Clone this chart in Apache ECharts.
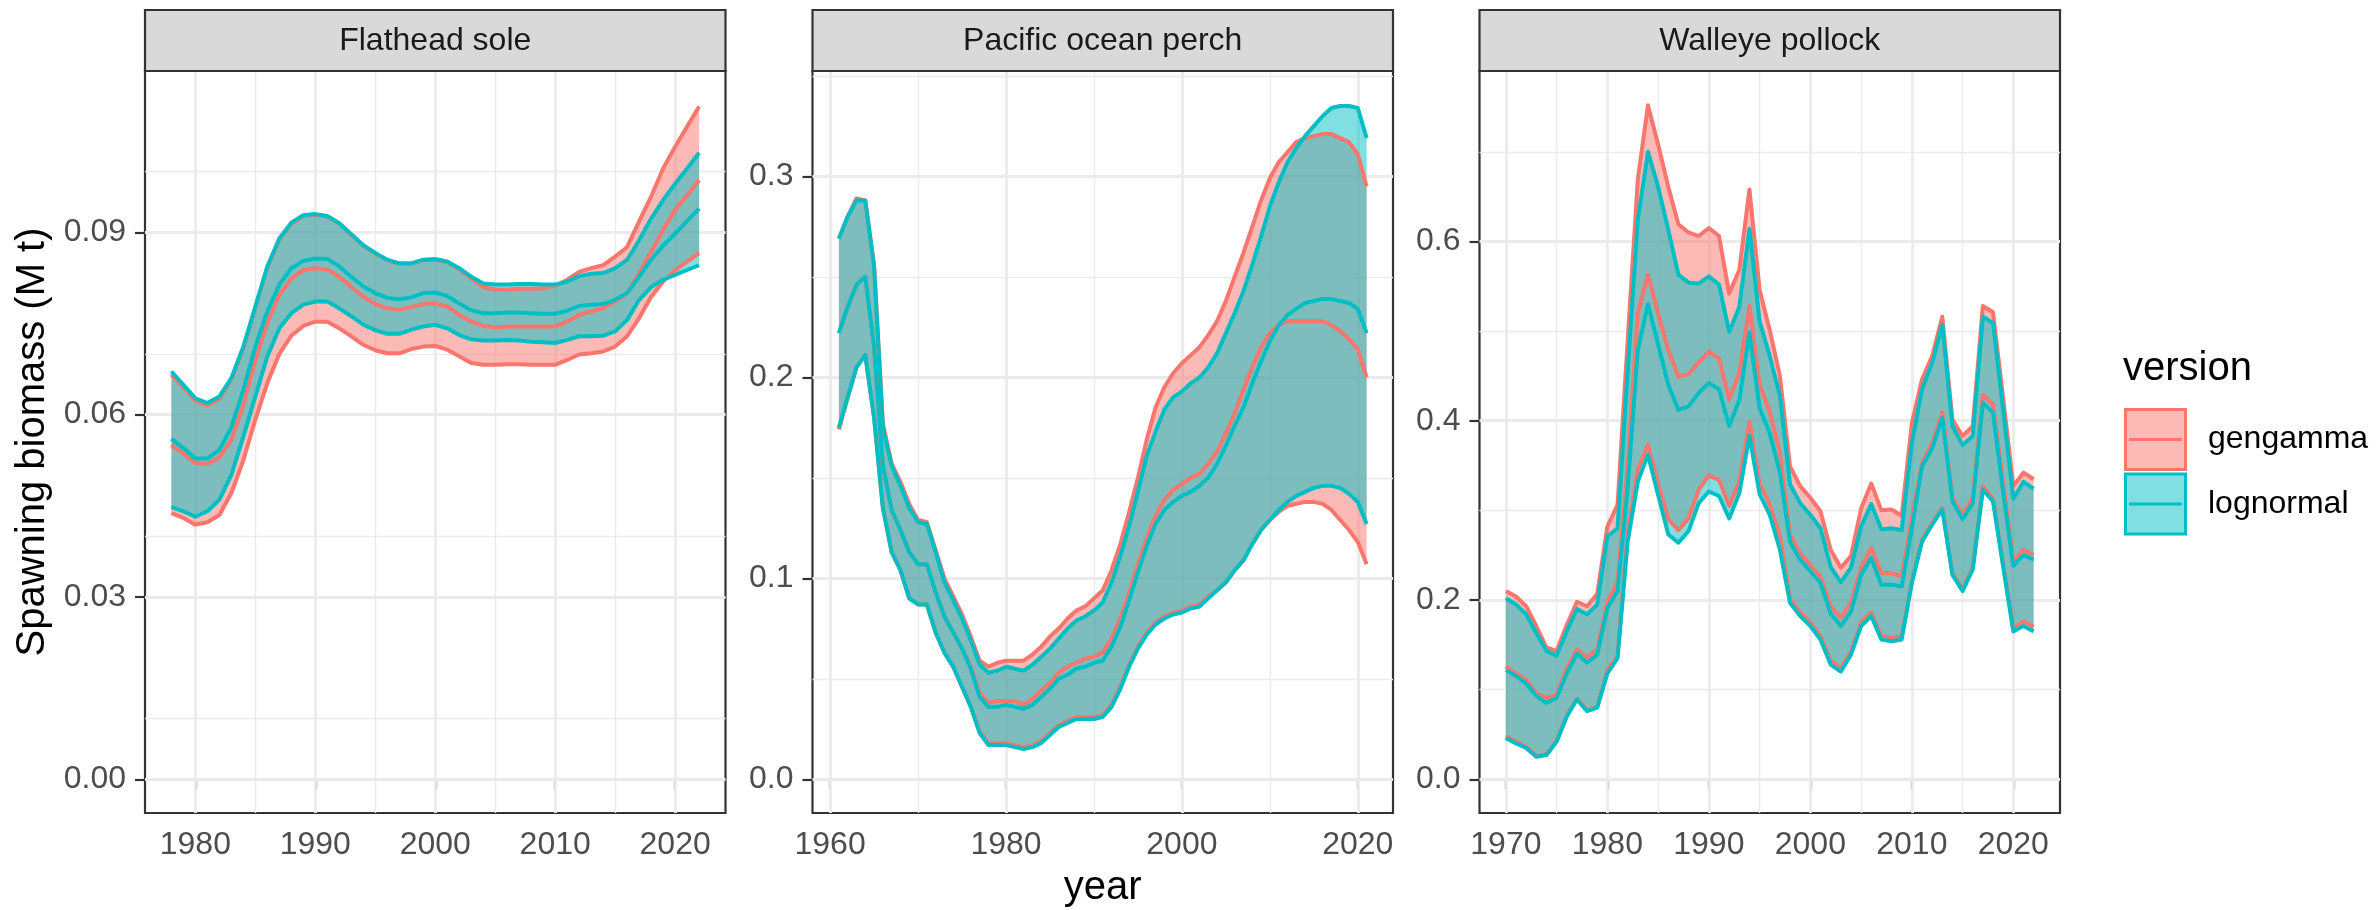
<!DOCTYPE html>
<html>
<head>
<meta charset="utf-8">
<title>Spawning biomass by stock</title>
<script src="https://cdn.jsdelivr.net/npm/echarts@6/dist/echarts.min.js"></script>
<style>
  html, body { margin: 0; padding: 0; background: #ffffff; }
  #chart { width: 2376px; height: 910px; }
</style>
</head>
<body>
<div id="chart"></div>
<script>
// ---- data ----
var versions = ['gengamma', 'lognormal'];
var versionColors = ['#F8766D', '#00BFC4'];
var versionFills = ['rgba(248,118,109,0.5)', 'rgba(0,191,196,0.5)'];

// Flathead sole
var fsYears = [1978, 1979, 1980, 1981, 1982, 1983, 1984, 1985, 1986, 1987,
  1988, 1989, 1990, 1991, 1992, 1993, 1994, 1995, 1996, 1997,
  1998, 1999, 2000, 2001, 2002, 2003, 2004, 2005, 2006, 2007,
  2008, 2009, 2010, 2011, 2012, 2013, 2014, 2015, 2016, 2017,
  2018, 2019, 2020, 2021, 2022];
var fsGgLo = [0.0438, 0.0430, 0.0419, 0.0423, 0.0435, 0.0471, 0.0525, 0.0592, 0.0652, 0.0700,
  0.0730, 0.0746, 0.0753, 0.0753, 0.0742, 0.0729, 0.0715, 0.0706, 0.0701, 0.0701,
  0.0708, 0.0712, 0.0713, 0.0707, 0.0696, 0.0685, 0.0682, 0.0682, 0.0683, 0.0683,
  0.0682, 0.0682, 0.0682, 0.0690, 0.0699, 0.0701, 0.0704, 0.0712, 0.0729, 0.0759,
  0.0794, 0.0819, 0.0838, 0.0852, 0.0866];
var fsGgMid = [0.0550, 0.0536, 0.0520, 0.0519, 0.0530, 0.0558, 0.0616, 0.0690, 0.0751, 0.0797,
  0.0824, 0.0838, 0.0841, 0.0839, 0.0827, 0.0810, 0.0794, 0.0782, 0.0775, 0.0773,
  0.0777, 0.0782, 0.0783, 0.0778, 0.0764, 0.0753, 0.0746, 0.0744, 0.0745, 0.0745,
  0.0745, 0.0745, 0.0745, 0.0753, 0.0764, 0.0770, 0.0775, 0.0786, 0.0800, 0.0833,
  0.0868, 0.0904, 0.0937, 0.0961, 0.0986];
var fsGgHi = [0.0666, 0.0645, 0.0623, 0.0615, 0.0626, 0.0658, 0.0710, 0.0776, 0.0842, 0.0888,
  0.0914, 0.0927, 0.0929, 0.0926, 0.0914, 0.0896, 0.0878, 0.0865, 0.0854, 0.0848,
  0.0848, 0.0854, 0.0855, 0.0851, 0.0839, 0.0824, 0.0810, 0.0806, 0.0806, 0.0807,
  0.0807, 0.0808, 0.0812, 0.0822, 0.0835, 0.0841, 0.0846, 0.0860, 0.0876, 0.0918,
  0.0959, 0.1005, 0.1041, 0.1074, 0.1107];
var fsLnLo = [0.0448, 0.0441, 0.0432, 0.0441, 0.0460, 0.0501, 0.0564, 0.0630, 0.0696, 0.0742,
  0.0767, 0.0781, 0.0786, 0.0786, 0.0775, 0.0762, 0.0748, 0.0739, 0.0733, 0.0733,
  0.0740, 0.0745, 0.0748, 0.0742, 0.0731, 0.0724, 0.0722, 0.0722, 0.0723, 0.0722,
  0.0720, 0.0719, 0.0718, 0.0723, 0.0729, 0.0729, 0.0730, 0.0737, 0.0756, 0.0789,
  0.0810, 0.0822, 0.0830, 0.0838, 0.0846];
var fsLnMid = [0.0560, 0.0545, 0.0528, 0.0528, 0.0542, 0.0579, 0.0641, 0.0712, 0.0770, 0.0814,
  0.0841, 0.0853, 0.0857, 0.0856, 0.0844, 0.0827, 0.0811, 0.0800, 0.0792, 0.0790,
  0.0793, 0.0800, 0.0801, 0.0795, 0.0783, 0.0772, 0.0767, 0.0767, 0.0768, 0.0768,
  0.0767, 0.0766, 0.0766, 0.0771, 0.0779, 0.0781, 0.0782, 0.0789, 0.0800, 0.0827,
  0.0855, 0.0878, 0.0898, 0.0919, 0.0939];
var fsLnHi = [0.0671, 0.0649, 0.0627, 0.0619, 0.0630, 0.0660, 0.0712, 0.0778, 0.0844, 0.0890,
  0.0916, 0.0928, 0.0930, 0.0927, 0.0915, 0.0897, 0.0879, 0.0866, 0.0855, 0.0849,
  0.0849, 0.0855, 0.0856, 0.0852, 0.0841, 0.0827, 0.0816, 0.0814, 0.0814, 0.0815,
  0.0815, 0.0814, 0.0814, 0.0819, 0.0828, 0.0832, 0.0833, 0.0841, 0.0855, 0.0887,
  0.0923, 0.0953, 0.0980, 0.1005, 0.1031];

// Pacific ocean perch
var popYears = [1961, 1962, 1963, 1964, 1965, 1966, 1967, 1968, 1969, 1970,
  1971, 1972, 1973, 1974, 1975, 1976, 1977, 1978, 1979, 1980,
  1981, 1982, 1983, 1984, 1985, 1986, 1987, 1988, 1989, 1990,
  1991, 1992, 1993, 1994, 1995, 1996, 1997, 1998, 1999, 2000,
  2001, 2002, 2003, 2004, 2005, 2006, 2007, 2008, 2009, 2010,
  2011, 2012, 2013, 2014, 2015, 2016, 2017, 2018, 2019, 2020,
  2021];
var popGgLo = [0.174, 0.190, 0.205, 0.211, 0.180, 0.135, 0.113, 0.104, 0.090, 0.087,
  0.087, 0.073, 0.063, 0.056, 0.046, 0.036, 0.024, 0.018, 0.018, 0.018,
  0.017, 0.016, 0.017, 0.019, 0.023, 0.027, 0.029, 0.031, 0.031, 0.031,
  0.032, 0.037, 0.046, 0.057, 0.066, 0.073, 0.078, 0.081, 0.083, 0.084,
  0.086, 0.087, 0.091, 0.094, 0.098, 0.104, 0.109, 0.117, 0.124, 0.129,
  0.133, 0.136, 0.137, 0.138, 0.138, 0.137, 0.134, 0.129, 0.124, 0.118,
  0.107];
var popGgMid = [0.222, 0.235, 0.246, 0.250, 0.215, 0.156, 0.134, 0.124, 0.113, 0.107,
  0.107, 0.093, 0.081, 0.073, 0.065, 0.056, 0.043, 0.038, 0.039, 0.039,
  0.039, 0.037, 0.040, 0.044, 0.048, 0.053, 0.056, 0.058, 0.060, 0.061,
  0.063, 0.070, 0.080, 0.093, 0.107, 0.120, 0.131, 0.139, 0.144, 0.147,
  0.150, 0.152, 0.157, 0.163, 0.172, 0.182, 0.194, 0.205, 0.215, 0.222,
  0.226, 0.228, 0.228, 0.228, 0.228, 0.228, 0.226, 0.223, 0.219, 0.214,
  0.200];
var popGgHi = [0.269, 0.280, 0.289, 0.288, 0.256, 0.177, 0.157, 0.148, 0.137, 0.129,
  0.128, 0.114, 0.100, 0.091, 0.082, 0.071, 0.059, 0.056, 0.058, 0.059,
  0.059, 0.059, 0.062, 0.066, 0.071, 0.075, 0.080, 0.084, 0.086, 0.090,
  0.094, 0.104, 0.117, 0.133, 0.150, 0.169, 0.185, 0.195, 0.202, 0.207,
  0.211, 0.215, 0.221, 0.228, 0.238, 0.250, 0.262, 0.275, 0.288, 0.299,
  0.307, 0.312, 0.317, 0.319, 0.320, 0.321, 0.321, 0.319, 0.317, 0.311,
  0.295];
var popLnLo = [0.175, 0.190, 0.205, 0.211, 0.180, 0.135, 0.113, 0.104, 0.090, 0.087,
  0.087, 0.073, 0.063, 0.056, 0.046, 0.036, 0.023, 0.017, 0.017, 0.017,
  0.016, 0.015, 0.016, 0.018, 0.022, 0.026, 0.028, 0.030, 0.030, 0.030,
  0.031, 0.036, 0.045, 0.056, 0.065, 0.072, 0.077, 0.080, 0.082, 0.083,
  0.085, 0.086, 0.090, 0.094, 0.098, 0.104, 0.109, 0.117, 0.124, 0.129,
  0.134, 0.138, 0.141, 0.143, 0.145, 0.146, 0.146, 0.145, 0.142, 0.138,
  0.127];
var popLnMid = [0.222, 0.235, 0.246, 0.250, 0.215, 0.156, 0.134, 0.124, 0.113, 0.107,
  0.107, 0.093, 0.081, 0.073, 0.065, 0.055, 0.041, 0.036, 0.036, 0.037,
  0.036, 0.035, 0.037, 0.041, 0.045, 0.050, 0.052, 0.055, 0.056, 0.058,
  0.059, 0.066, 0.076, 0.089, 0.103, 0.116, 0.127, 0.134, 0.138, 0.141,
  0.143, 0.146, 0.150, 0.157, 0.166, 0.176, 0.185, 0.197, 0.208, 0.218,
  0.226, 0.231, 0.234, 0.237, 0.238, 0.239, 0.239, 0.238, 0.237, 0.234,
  0.222];
var popLnHi = [0.269, 0.280, 0.288, 0.288, 0.255, 0.175, 0.156, 0.146, 0.135, 0.128,
  0.127, 0.113, 0.098, 0.089, 0.080, 0.069, 0.057, 0.053, 0.054, 0.056,
  0.055, 0.054, 0.057, 0.061, 0.065, 0.070, 0.075, 0.079, 0.081, 0.084,
  0.088, 0.098, 0.111, 0.126, 0.143, 0.161, 0.173, 0.184, 0.190, 0.193,
  0.197, 0.200, 0.205, 0.212, 0.222, 0.232, 0.243, 0.256, 0.270, 0.285,
  0.297, 0.307, 0.314, 0.320, 0.325, 0.330, 0.334, 0.335, 0.335, 0.334,
  0.319];

// Walleye pollock
var wpYears = [1970, 1971, 1972, 1973, 1974, 1975, 1976, 1977, 1978, 1979,
  1980, 1981, 1982, 1983, 1984, 1985, 1986, 1987, 1988, 1989,
  1990, 1991, 1992, 1993, 1994, 1995, 1996, 1997, 1998, 1999,
  2000, 2001, 2002, 2003, 2004, 2005, 2006, 2007, 2008, 2009,
  2010, 2011, 2012, 2013, 2014, 2015, 2016, 2017, 2018, 2019,
  2020, 2021, 2022];
var wpGgLo = [0.048, 0.042, 0.036, 0.026, 0.028, 0.043, 0.071, 0.090, 0.077, 0.081,
  0.122, 0.137, 0.275, 0.345, 0.373, 0.330, 0.290, 0.278, 0.291, 0.323,
  0.339, 0.334, 0.305, 0.332, 0.399, 0.330, 0.306, 0.271, 0.201, 0.186,
  0.175, 0.160, 0.132, 0.124, 0.142, 0.175, 0.186, 0.160, 0.158, 0.159,
  0.221, 0.267, 0.286, 0.303, 0.230, 0.212, 0.236, 0.327, 0.313, 0.240,
  0.168, 0.176, 0.170];
var wpGgMid = [0.126, 0.118, 0.111, 0.096, 0.091, 0.094, 0.124, 0.145, 0.136, 0.145,
  0.197, 0.221, 0.350, 0.520, 0.563, 0.519, 0.479, 0.449, 0.452, 0.465,
  0.477, 0.469, 0.424, 0.453, 0.528, 0.440, 0.410, 0.364, 0.273, 0.252,
  0.239, 0.226, 0.193, 0.180, 0.197, 0.236, 0.258, 0.230, 0.230, 0.226,
  0.290, 0.353, 0.375, 0.409, 0.314, 0.295, 0.314, 0.429, 0.418, 0.330,
  0.243, 0.256, 0.250];
var wpGgHi = [0.210, 0.204, 0.193, 0.171, 0.147, 0.143, 0.172, 0.198, 0.193, 0.207,
  0.282, 0.306, 0.490, 0.669, 0.752, 0.708, 0.661, 0.619, 0.610, 0.606,
  0.615, 0.606, 0.542, 0.568, 0.658, 0.546, 0.501, 0.450, 0.349, 0.327,
  0.314, 0.299, 0.256, 0.236, 0.249, 0.302, 0.330, 0.300, 0.301, 0.294,
  0.397, 0.446, 0.472, 0.516, 0.401, 0.383, 0.394, 0.528, 0.521, 0.425,
  0.327, 0.342, 0.335];
var wpLnLo = [0.046, 0.040, 0.035, 0.025, 0.027, 0.042, 0.070, 0.089, 0.076, 0.080,
  0.118, 0.135, 0.265, 0.332, 0.362, 0.317, 0.273, 0.264, 0.277, 0.308,
  0.321, 0.316, 0.291, 0.319, 0.383, 0.318, 0.295, 0.256, 0.197, 0.182,
  0.171, 0.156, 0.128, 0.120, 0.139, 0.171, 0.182, 0.156, 0.154, 0.156,
  0.219, 0.265, 0.284, 0.301, 0.228, 0.210, 0.234, 0.323, 0.310, 0.237,
  0.165, 0.171, 0.165];
var wpLnMid = [0.122, 0.115, 0.107, 0.093, 0.085, 0.091, 0.118, 0.140, 0.130, 0.139,
  0.191, 0.210, 0.325, 0.479, 0.530, 0.485, 0.440, 0.412, 0.416, 0.431,
  0.442, 0.435, 0.394, 0.423, 0.498, 0.414, 0.386, 0.342, 0.265, 0.245,
  0.232, 0.219, 0.185, 0.171, 0.187, 0.228, 0.247, 0.217, 0.217, 0.215,
  0.280, 0.349, 0.369, 0.403, 0.310, 0.290, 0.308, 0.420, 0.409, 0.320,
  0.238, 0.250, 0.245];
var wpLnHi = [0.202, 0.195, 0.184, 0.163, 0.143, 0.138, 0.165, 0.190, 0.184, 0.195,
  0.271, 0.280, 0.455, 0.624, 0.700, 0.661, 0.613, 0.563, 0.554, 0.553,
  0.561, 0.552, 0.499, 0.527, 0.614, 0.511, 0.472, 0.428, 0.329, 0.308,
  0.295, 0.280, 0.237, 0.220, 0.236, 0.282, 0.307, 0.279, 0.280, 0.278,
  0.375, 0.435, 0.464, 0.507, 0.394, 0.373, 0.383, 0.516, 0.509, 0.412,
  0.313, 0.332, 0.324];

// axis limits and breaks (major = labelled, minor = grid only)
var fsXLim = [1975.8, 2024.2], fsYLim = [-0.00555, 0.11655];
var fsXMajor = [1980, 1990, 2000, 2010, 2020], fsXMinor = [1985, 1995, 2005, 2015];
var fsYMajor = [0, 0.03, 0.06, 0.09], fsYMinor = [0.015, 0.045, 0.075, 0.105];

var popXLim = [1958, 2024], popYLim = [-0.01678, 0.3524];
var popXMajor = [1960, 1980, 2000, 2020], popXMinor = [1970, 1990, 2010];
var popYMajor = [0, 0.1, 0.2, 0.3], popYMinor = [0.05, 0.15, 0.25, 0.35];

var wpXLim = [1967.4, 2024.6], wpYLim = [-0.03762, 0.7901];
var wpXMajor = [1970, 1980, 1990, 2000, 2010, 2020], wpXMinor = [1975, 1985, 1995, 2005, 2015];
var wpYMajor = [0, 0.2, 0.4, 0.6], wpYMinor = [0.1, 0.3, 0.5, 0.7];

// ---- layout ----
var FONT = '"Liberation Sans", Arial, Helvetica, sans-serif';
var PANEL_TOP = 71, PANEL_H = 742, PANEL_W = 580.5;
var STRIP_TOP = 10;
var panelLeft = [145, 812.5, 1479.5];

var panels = [
  { title: 'Flathead sole', years: fsYears,
    gg: [fsGgLo, fsGgMid, fsGgHi], ln: [fsLnLo, fsLnMid, fsLnHi],
    xLim: fsXLim, yLim: fsYLim, xMajor: fsXMajor, xMinor: fsXMinor,
    yMajor: fsYMajor, yMinor: fsYMinor, digits: 2 },
  { title: 'Pacific ocean perch', years: popYears,
    gg: [popGgLo, popGgMid, popGgHi], ln: [popLnLo, popLnMid, popLnHi],
    xLim: popXLim, yLim: popYLim, xMajor: popXMajor, xMinor: popXMinor,
    yMajor: popYMajor, yMinor: popYMinor, digits: 1 },
  { title: 'Walleye pollock', years: wpYears,
    gg: [wpGgLo, wpGgMid, wpGgHi], ln: [wpLnLo, wpLnMid, wpLnHi],
    xLim: wpXLim, yLim: wpYLim, xMajor: wpXMajor, xMinor: wpXMinor,
    yMajor: wpYMajor, yMinor: wpYMinor, digits: 1 }
];

function pairs(xs, ys) {
  return xs.map(function (x, k) { return [x, ys[k]]; });
}

function ribbonRender(xs, lo, hi, fill) {
  return function (params, api) {
    if (params.dataIndex !== 0) return null;
    var pts = [];
    for (var k = 0; k < xs.length; k++) pts.push(api.coord([xs[k], hi[k]]));
    for (var j = xs.length - 1; j >= 0; j--) pts.push(api.coord([xs[j], lo[j]]));
    return { type: 'polygon', shape: { points: pts }, style: { fill: fill } };
  };
}

function lineSeries(i, xs, ys, color) {
  return {
    type: 'line', xAxisIndex: i, yAxisIndex: i, data: pairs(xs, ys),
    showSymbol: false, symbol: 'none', silent: true,
    lineStyle: { color: color, width: 4, join: 'round', cap: 'butt' },
    itemStyle: { color: color }
  };
}

var grids = [], xAxes = [], yAxes = [], series = [], graphics = [];

panels.forEach(function (p, i) {
  grids.push({
    left: panelLeft[i], top: PANEL_TOP, width: PANEL_W, height: PANEL_H,
    show: true, backgroundColor: '#ffffff', borderColor: '#333333', borderWidth: 2.2
  });
  xAxes.push({
    gridIndex: i, type: 'value', min: p.xLim[0], max: p.xLim[1],
    axisLine: { show: false },
    axisTick: { show: true, length: 10, customValues: p.xMajor, lineStyle: { color: '#333333', width: 2.2 } },
    axisLabel: { customValues: p.xMajor, margin: 16, color: '#4D4D4D', fontSize: 32, fontFamily: FONT,
      formatter: function (v) { return String(v); } },
    splitLine: { show: false }
  });
  yAxes.push({
    gridIndex: i, type: 'value', min: p.yLim[0], max: p.yLim[1],
    axisLine: { show: false },
    axisTick: { show: true, length: 10, customValues: p.yMajor, lineStyle: { color: '#333333', width: 2.2 } },
    axisLabel: { customValues: p.yMajor, margin: 19, color: '#4D4D4D', fontSize: 32, fontFamily: FONT,
      formatter: function (v) { return v.toFixed(p.digits); } },
    splitLine: { show: false }
  });

  // grid lines, placed through the axes' own scales
  var gl = [];
  p.xMinor.forEach(function (v) { gl.push({ xAxis: v, lineStyle: { width: 1.4 } }); });
  p.yMinor.forEach(function (v) { gl.push({ yAxis: v, lineStyle: { width: 1.4 } }); });
  p.xMajor.forEach(function (v) { gl.push({ xAxis: v, lineStyle: { width: 2.8 } }); });
  p.yMajor.forEach(function (v) { gl.push({ yAxis: v, lineStyle: { width: 2.8 } }); });
  series.push({
    type: 'line', xAxisIndex: i, yAxisIndex: i, data: [[p.xLim[0], p.yLim[0]]],
    showSymbol: false, symbol: 'none', silent: true, lineStyle: { opacity: 0 }, z: 1,
    markLine: {
      silent: true, symbol: ['none', 'none'], label: { show: false }, animation: false, z: 1,
      lineStyle: { color: '#EBEBEB', type: 'solid' }, emphasis: { disabled: true },
      data: gl
    }
  });

  // ribbons with their outlines (gengamma first, lognormal on top)
  [p.gg, p.ln].forEach(function (band, v) {
    series.push({
      type: 'custom', xAxisIndex: i, yAxisIndex: i, silent: true, clip: false,
      data: p.years.map(function (x, k) { return [x, band[0][k], band[2][k]]; }),
      encode: { x: 0, y: [1, 2] },
      renderItem: ribbonRender(p.years, band[0], band[2], versionFills[v])
    });
    series.push(lineSeries(i, p.years, band[2], versionColors[v]));
    series.push(lineSeries(i, p.years, band[0], versionColors[v]));
  });
  // medians drawn last
  series.push(lineSeries(i, p.years, p.gg[1], versionColors[0]));
  series.push(lineSeries(i, p.years, p.ln[1], versionColors[1]));

  // facet strip
  graphics.push({
    type: 'rect', z: 10,
    shape: { x: panelLeft[i], y: STRIP_TOP, width: PANEL_W, height: PANEL_TOP - STRIP_TOP },
    style: { fill: '#D9D9D9', stroke: '#333333', lineWidth: 2.2 }
  });
  graphics.push({
    type: 'text', z: 11, x: panelLeft[i] + PANEL_W / 2, y: (STRIP_TOP + PANEL_TOP) / 2 + 1,
    style: { text: p.title, fill: '#1A1A1A', fontSize: 32, fontFamily: FONT, align: 'center', verticalAlign: 'middle' }
  });
});

// axis titles
graphics.push({
  type: 'text', x: 33, y: PANEL_TOP + PANEL_H / 2, rotation: Math.PI / 2,
  style: { text: 'Spawning biomass (M t)', fill: '#000000', fontSize: 40, fontFamily: FONT, align: 'center', verticalAlign: 'middle' }
});
graphics.push({
  type: 'text', x: panelLeft[1] + PANEL_W / 2, y: 888,
  style: { text: 'year', fill: '#000000', fontSize: 40, fontFamily: FONT, align: 'center', verticalAlign: 'middle' }
});

// legend
var LEG_X = 2124, LEG_TOP = 408, KEY = 63;
graphics.push({
  type: 'text', x: LEG_X - 1, y: 369,
  style: { text: 'version', fill: '#000000', fontSize: 40, fontFamily: FONT, align: 'left', verticalAlign: 'middle' }
});
versions.forEach(function (name, v) {
  var y0 = LEG_TOP + v * (KEY + 1.5);
  graphics.push({
    type: 'rect', shape: { x: LEG_X + 1.5, y: y0 + 1.5, width: KEY - 3, height: KEY - 3 },
    style: { fill: versionFills[v], stroke: versionColors[v], lineWidth: 3 }
  });
  graphics.push({
    type: 'line', shape: { x1: LEG_X + 5, y1: y0 + KEY / 2, x2: LEG_X + KEY - 5, y2: y0 + KEY / 2 },
    style: { stroke: versionColors[v], lineWidth: 3 }
  });
  graphics.push({
    type: 'text', x: LEG_X + 84, y: y0 + KEY / 2,
    style: { text: name, fill: '#000000', fontSize: 32, fontFamily: FONT, align: 'left', verticalAlign: 'middle' }
  });
});

var chart = echarts.init(document.getElementById('chart'), null, { renderer: 'canvas' });
chart.setOption({
  animation: false,
  backgroundColor: '#ffffff',
  grid: grids,
  xAxis: xAxes,
  yAxis: yAxes,
  series: series,
  graphic: { elements: graphics }
});
</script>
</body>
</html>
